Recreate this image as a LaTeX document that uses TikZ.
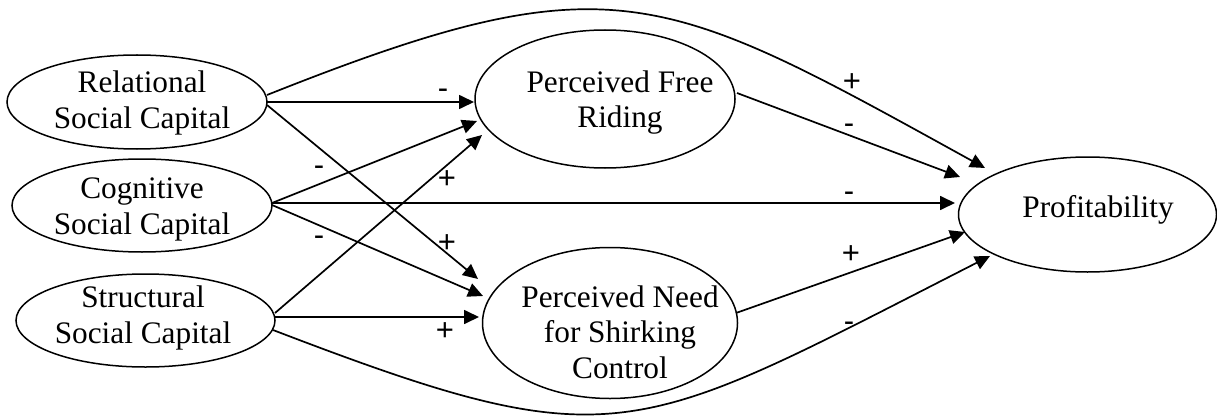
\documentclass[tikz,border=0pt]{standalone}
\usepackage{fontspec}
\setmainfont{Liberation Serif}
\newfontfamily\labfont{Liberation Sans}
\usetikzlibrary{shapes.geometric,arrows.meta,calc}
\begin{document}
\begin{tikzpicture}[x=1pt,y=-1pt,
  ell/.style={ellipse,draw,line width=1.5pt,inner sep=0pt},
  txt/.style={align=center,inner sep=0pt,font=\fontsize{31.3}{35.5}\selectfont},
  conn/.style={line width=1.7pt,-{Triangle[length=15pt,width=14pt]}},
  plusl/.style={inner sep=0pt,text height=21.7pt,text depth=0pt,font=\labfont\fontsize{31}{32}\selectfont},
  minusl/.style={inner sep=0pt,text height=17pt,text depth=0pt,font=\labfont\fontsize{31}{32}\selectfont}]
\useasboundingbox (0,0) rectangle (1217,417);
% ellipses
\node[ell,minimum width=260pt,minimum height=94pt] (rel) at (137,102) {};
\node[ell,minimum width=260pt,minimum height=93pt] (cog) at (142,205.5) {};
\node[ell,minimum width=259pt,minimum height=93pt] (str) at (145.5,320.5) {};
\node[ell,minimum width=260pt,minimum height=138pt] (fr) at (605,99) {};
\node[ell,minimum width=255pt,minimum height=151pt] (pn) at (610,323) {};
\node[ell,minimum width=258pt,minimum height=115pt] (prof) at (1087.5,214.5) {};
% texts
\node[txt] (relT) at (142,103.2) {Relational\\Social Capital};
\node[txt] (cogT) at (142,209.4) {Cognitive\\Social Capital};
\node[txt] (strT) at (143,317.8) {Structural\\Social Capital};
\node[txt] (frT) at (620,102.3) {Perceived Free\\Riding};
\node[txt] (pnT) at (620,332) {Perceived Need\\for Shirking\\Control};
\node[txt] (profT) at (1098,209.75) {Profitability};
% connectors
\draw[conn] ($(rel)+(130,0)$) -- ($(fr)+(-131,3)$);
\draw[conn] ($(rel)+(130,3)$) -- ($(pn)+(-132,-44)$);
\draw[conn] ($(rel)+(130,-7)$) .. controls +(345.6,-137.6) and +(-323.5,-178.4) .. ($(prof)+(-102.5,-46.5)$);
\draw[conn] ($(cog)+(130,-2.5)$) -- ($(fr)+(-128,22)$);
\draw[conn] ($(cog)+(130,-0.5)$) -- ($(pn)+(-127,-27)$);
\draw[conn] ($(cog)+(130,-2.5)$) -- ($(prof)+(-132.5,-11.5)$);
\draw[conn] ($(str)+(129.5,-7.5)$) -- ($(fr)+(-123,36)$);
\draw[conn] ($(str)+(129.5,-3.5)$) -- ($(pn)+(-131,-6)$);
\draw[conn] ($(str)+(127.5,9.5)$) .. controls +(345.6,132.5) and +(-358.4,182.6) .. ($(prof)+(-97.5,41.5)$);
\draw[conn] ($(fr)+(132,-6)$) -- ($(prof)+(-127.5,-37.5)$);
\draw[conn] ($(pn)+(126,-10)$) -- ($(prof)+(-122.5,17.5)$);
% labels
\node[minusl] (l1) at (443,90) {-};
\node[minusl] (l2) at (319,167) {-};
\node[plusl] (l3) at (447,178) {+};
\node[plusl] (l4) at (447,242) {+};
\node[minusl] (l5) at (319,237) {-};
\node[plusl] (l6) at (445,330) {+};
\node[minusl] (l7) at (849,193) {-};
\node[minusl] (l8) at (849,125) {-};
\node[plusl] (l9) at (852,81) {+};
\node[plusl] (l10) at (851,253) {+};
\node[minusl] (l11) at (849,323) {-};
\end{tikzpicture}
\end{document}
